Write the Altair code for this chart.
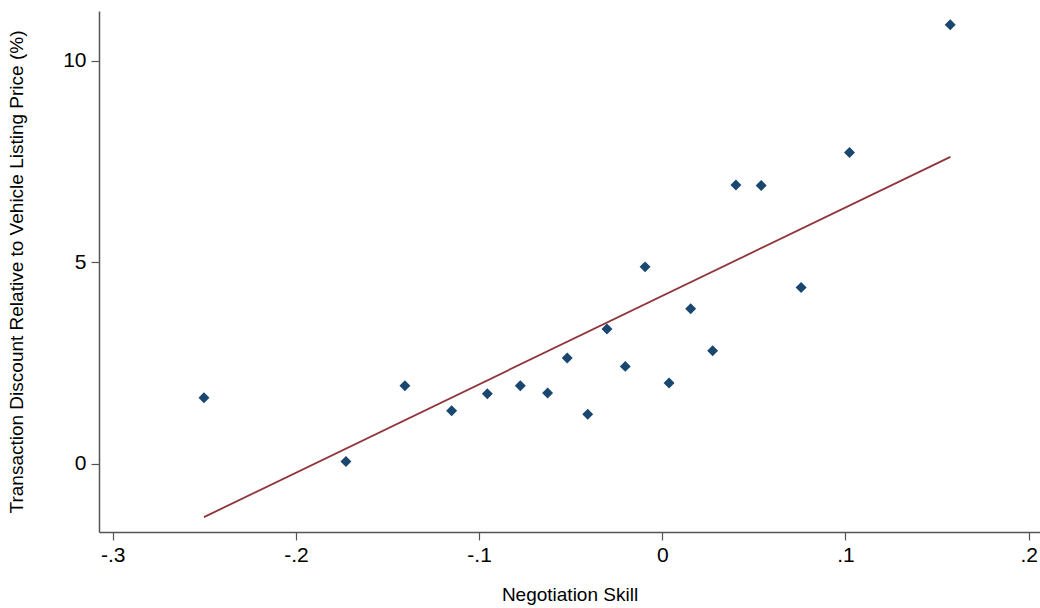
import altair as alt
import pandas as pd

# Binned scatter points
skill = [-0.2502, -0.1727, -0.1405, -0.1150, -0.0955, -0.0775, -0.0626, -0.0519, -0.0407,
         -0.0302, -0.0202, -0.0094, 0.0037, 0.0155, 0.0275, 0.0402, 0.0540, 0.0758, 0.1022, 0.1572]
discount = [1.64, 0.06, 1.94, 1.32, 1.74, 1.94, 1.76, 2.63, 1.23,
            3.35, 2.42, 4.89, 2.01, 3.85, 2.81, 6.92, 6.91, 4.38, 7.73, 10.90]

# Fitted line end points
fit_x = [-0.2502, 0.1573]
fit_y = [-1.32, 7.62]

x_tick_values = [-0.3, -0.2, -0.1, 0.0, 0.1, 0.2]
x_tick_labels = ["-.3", "-.2", "-.1", "0", ".1", ".2"]
y_tick_values = [0, 5, 10]
y_tick_labels = ["0", "5", "10"]

x_domain = [-0.3075, 0.2062]
y_domain = [-1.69, 11.24]

def label_expr(values, labels):
    expr = "''"
    for v, l in reversed(list(zip(values, labels))):
        expr = f"abs(datum.value - ({v})) < 1e-9 ? '{l}' : ({expr})"
    return expr

pts = pd.DataFrame({"x": skill, "y": discount})
fit = pd.DataFrame({"x": fit_x, "y": fit_y})

FONT = "Liberation Sans"
AXIS_COLOR = "#555555"

common = dict(
    titleFontSize=19,
    titleFontWeight="normal",
    labelFontSize=21,
    tickSize=8,
    grid=False,
    domainColor=AXIS_COLOR,
    tickColor=AXIS_COLOR,
    domainWidth=1.5,
    tickWidth=1.2,
    labelColor="black",
    titleColor="black",
    labelFont=FONT,
    titleFont=FONT,
    labelFlush=False,
)

x_enc = alt.X(
    "x:Q",
    scale=alt.Scale(domain=x_domain, nice=False, zero=False),
    axis=alt.Axis(
        values=x_tick_values,
        labelExpr=label_expr(x_tick_values, x_tick_labels),
        title="Negotiation Skill",
        titlePadding=20,
        labelPadding=4,
        **common,
    ),
)
y_enc = alt.Y(
    "y:Q",
    scale=alt.Scale(domain=y_domain, nice=False, zero=False),
    axis=alt.Axis(
        values=y_tick_values,
        labelExpr=label_expr(y_tick_values, y_tick_labels),
        title="Transaction Discount Relative to Vehicle Listing Price (%)",
        titlePadding=36,
        labelPadding=5,
        **common,
    ),
)

points = alt.Chart(pts).mark_point(
    shape="diamond", filled=True, size=120, color="#1a476f", opacity=1
).encode(x=x_enc, y=y_enc)

line = alt.Chart(fit).mark_line(color="#90353b", strokeWidth=1.8).encode(
    x=alt.X("x:Q"), y=alt.Y("y:Q")
)

chart = (
    alt.layer(line, points)
    .properties(
        width=941,
        height=521,
        autosize=alt.AutoSizeParams(type="none"),
        padding={"left": 99, "top": 11, "right": 0, "bottom": 76},
        background="white",
    )
    .configure_view(stroke=None)
)

chart.save("out.html", embed_options={"renderer": "svg", "actions": False})
